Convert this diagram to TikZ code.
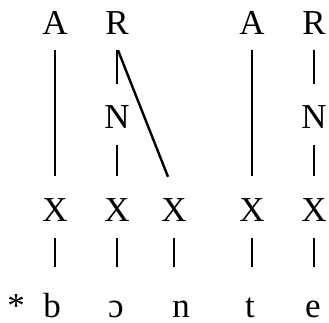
\documentclass[tikz,border=0pt]{standalone}
\usepackage{fontspec}
\setmainfont{Liberation Serif}
\usepackage{tikz}
\usetikzlibrary{positioning,calc}

\tikzset{
  seg/.style={anchor=base, inner sep=0pt, text height=23pt, text depth=0pt,
    font=\fontsize{35}{40}\selectfont},
  link/.style={line width=2.4pt, shorten <=15pt, shorten >=22pt},
  tie/.style={line width=2.4pt, shorten <=17pt, shorten >=27pt}
}

\begin{document}
\begin{tikzpicture}[x=1pt, y=-1pt]
        \useasboundingbox (0,0) rectangle (329,323);

        % Silbenebene
        \node[seg] (a1) at (55, 35) {A};
        \node[seg] (r1) at (117, 35) {R};
        \node[seg] (a2) at (252, 35) {A};
        \node[seg] (r2) at (314, 35) {R};

        % Nukleus
        \node[seg] (n1) at (117, 129) {N};
        \node[seg] (n2) at (314, 129) {N};

        % Skelett
        \node[seg] (x1) at (55, 221) {X};
        \node[seg] (x2) at (117, 221) {X};
        \node[seg] (x3) at (174, 221) {X};
        \node[seg] (x4) at (252, 221) {X};
        \node[seg] (x5) at (314, 221) {X};

        % Segmente
        \node[seg] (star) at (16, 317) {*};
        \node[seg] (s1) at (52, 317) {b};
        \node[seg] (s2) at (116, 317) {ɔ};
        \node[seg] (s3) at (181, 317) {n};
        \node[seg] (s4) at (250, 317) {t};
        \node[seg] (s5) at (313, 317) {e};

        % Assoziationslinien
        \draw[link] (a1.south) -- (x1.north);
        \draw[link] (r1.south) -- (n1.north);
        \draw[link, shorten <=16pt] (n1.south) -- (x2.north);
        \draw[line width=2.4pt] ([xshift=1pt, yshift=-15pt]r1.south) -- ([xshift=-6pt, yshift=21pt]x3.north);
        \draw[link] (a2.south) -- (x4.north);
        \draw[link] (r2.south) -- (n2.north);
        \draw[link, shorten <=16pt] (n2.south) -- (x5.north);

        \foreach \i in {1,...,5}
            \draw[tie] (x\i.south) -- (x\i.south |- s\i.north);
\end{tikzpicture}
\end{document}
